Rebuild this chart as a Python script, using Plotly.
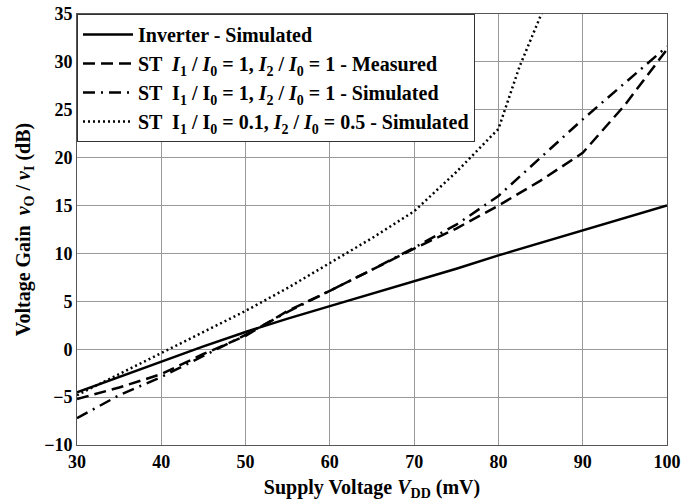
import plotly.graph_objects as go

vdd = [30, 35, 40, 45, 50, 55, 60, 65, 70, 75, 80, 85, 90, 95, 100]
inverter_sim = [-4.5, -2.9, -1.3, 0.3, 1.8, 3.2, 4.5, 5.8, 7.1, 8.4, 9.8, 11.1, 12.4, 13.7, 15.0]
st_measured = [-5.2, -4.0, -2.6, -0.5, 1.4, 4.0, 6.1, 8.3, 10.5, 12.6, 15.0, 17.6, 20.5, 25.5, 31.3]
st_simulated = [-7.2, -4.8, -2.9, -0.7, 1.5, 3.9, 6.1, 8.3, 10.6, 13.0, 16.0, 20.0, 24.0, 27.8, 31.6]
vdd_low = [30, 35, 40, 45, 50, 55, 60, 65, 70, 75, 80, 82.5, 85, 87.5]
st_low_sim = [-4.8, -2.6, -0.4, 1.8, 4.0, 6.4, 9.0, 11.6, 14.4, 18.5, 23.0, 29.5, 34.8, 40.0]

names = [
    "<b>Inverter - Simulated</b>",
    "<b>ST  <i>I</i><sub>1</sub> / <i>I</i><sub>0</sub> = 1, <i>I</i><sub>2</sub> / <i>I</i><sub>0</sub> = 1 - Measured</b>",
    "<b>ST  I<sub>1</sub> / I<sub>0</sub> = 1, <i>I</i><sub>2</sub> / <i>I</i><sub>0</sub> = 1 - Simulated</b>",
    "<b>ST  I<sub>1</sub> / I<sub>0</sub> = 0.1, <i>I</i><sub>2</sub> / <i>I</i><sub>0</sub> = 0.5 - Simulated</b>",
]

fig = go.Figure()
fig.add_trace(go.Scatter(x=vdd, y=inverter_sim, mode="lines", name=names[0],
                         line=dict(color="black", width=2.5)))
fig.add_trace(go.Scatter(x=vdd, y=st_measured, mode="lines", name=names[1],
                         line=dict(color="black", width=2.5, dash="12px,6px")))
fig.add_trace(go.Scatter(x=vdd, y=st_simulated, mode="lines", name=names[2],
                         line=dict(color="black", width=2.5, dash="12px,6px,2px,6px")))
fig.add_trace(go.Scatter(x=vdd_low, y=st_low_sim, mode="lines", name=names[3],
                         line=dict(color="black", width=2.5, dash="2px,3px")))

font_family = "Liberation Serif"
fig.update_layout(
    width=697, height=504,
    margin=dict(l=77, r=30, t=14, b=59),
    paper_bgcolor="white", plot_bgcolor="white",
    font=dict(family=font_family, color="black"),
    showlegend=True,
    legend=dict(x=0, y=1, xanchor="left", yanchor="top",
                bgcolor="white", bordercolor="#333", borderwidth=1,
                font=dict(family=font_family, size=20, color="black"),
                tracegroupgap=0, itemwidth=50),
    xaxis=dict(range=[30, 100], dtick=10, showgrid=True, gridcolor="#999", gridwidth=1,
               showline=True, linecolor="#555", linewidth=1, mirror=True, zeroline=False,
               automargin=False,
               ticks="", tickfont=dict(family=font_family, size=18, weight="bold"),
               title=dict(text="<b>Supply Voltage <i>V</i><sub>DD</sub> (mV)</b>",
                          font=dict(family=font_family, size=20), standoff=9)),
    yaxis=dict(range=[-10, 35], dtick=5, showgrid=True, gridcolor="#999", gridwidth=1,
               showline=True, linecolor="#555", linewidth=1, mirror=True, zeroline=False,
               automargin=False,
               ticks="", tickfont=dict(family=font_family, size=18, weight="bold"),
               title=dict(text="<b>Voltage Gain  <i>v</i><sub>O</sub> / <i>v</i><sub>I</sub> (dB)</b>",
                          font=dict(family=font_family, size=20), standoff=8)),
)

# remove the default page margin so the figure sits at the window's top-left corner
fig.write_html("out.html", config={"displayModeBar": False},
               post_script="document.body.style.margin='0';")
